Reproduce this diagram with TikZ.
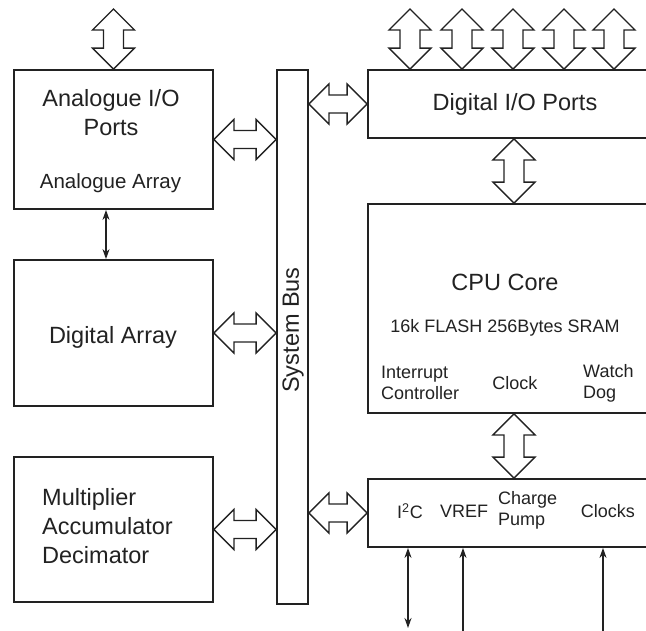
\documentclass[tikz,border=0pt]{standalone}
\usepackage{fontspec}
\setmainfont{Liberation Sans}
\usetikzlibrary{calc,arrows.meta}
\definecolor{ink}{HTML}{222222}
\tikzset{
  box/.style={draw=ink, line width=1.8pt, fill=white, inner sep=0pt},
  fat/.style={draw=ink, line width=1.3pt, fill=white, line join=miter},
  thin/.style={draw=ink, line width=1.5pt, -{Stealth[length=10pt,width=7pt]}},
  thinboth/.style={draw=ink, line width=1.5pt, {Stealth[length=10pt,width=7pt]}-{Stealth[length=10pt,width=7pt]}},
  big/.style={font=\fontsize{23.5}{29}\selectfont, text=ink, align=center, inner sep=0pt},
  small/.style={font=\fontsize{18}{21}\selectfont, text=ink, align=center, inner sep=0pt},
  smallleft/.style={font=\fontsize{18}{21}\selectfont, text=ink, align=left, inner sep=0pt},
}
% vertical fat double arrow between #1 (top) and #2 (bottom)
\newcommand\fatV[2]{%
  \path[fat] let \p1=#1, \p2=#2 in
   (\x1,\y1) -- (\x1+21pt,\y1-21pt) -- (\x1+10pt,\y1-21pt) -- (\x1+10pt,\y2+21pt)
   -- (\x1+21pt,\y2+21pt) -- (\x1,\y2) -- (\x1-21pt,\y2+21pt) -- (\x1-10pt,\y2+21pt)
   -- (\x1-10pt,\y1-21pt) -- (\x1-21pt,\y1-21pt) -- cycle;}
% horizontal fat double arrow between #1 (left) and #2 (right)
\newcommand\fatH[2]{%
  \path[fat] let \p1=#1, \p2=#2 in
   (\x1,\y1) -- (\x1+20pt,\y1+20pt) -- (\x1+20pt,\y1+9pt) -- (\x2-20pt,\y1+9pt)
   -- (\x2-20pt,\y1+20pt) -- (\x2,\y1) -- (\x2-20pt,\y1-20pt) -- (\x2-20pt,\y1-9pt)
   -- (\x1+20pt,\y1-9pt) -- (\x1+20pt,\y1-20pt) -- cycle;}
\begin{document}
\begin{tikzpicture}[x=1pt,y=-1pt]
\useasboundingbox (0,0) rectangle (646,630);
\clip (0,0) rectangle (646,630);

% boxes
\node[box, minimum width=199pt, minimum height=139pt] (ana) at (113.5,139.5) {};
\node[box, minimum width=199pt, minimum height=146pt] (da) at (113.5,333) {};
\node[box, minimum width=199pt, minimum height=145pt] (mad) at (113.5,529.5) {};
\node[box, minimum width=31pt, minimum height=534pt] (bus) at (292.5,337) {};
\node[box, minimum width=292pt, minimum height=68pt] (dio) at (514,104) {};
\node[box, minimum width=292pt, minimum height=209pt] (cpu) at (514,308.5) {};
\node[box, minimum width=292pt, minimum height=68pt] (bot) at (514,513) {};

% texts
\node[big] (anat) at (111,112.5) {Analogue I/O\\Ports};
\node[small, font=\fontsize{20.5}{24}\selectfont] (anaarr) at (110.5,183) {Analogue Array};
\node[big] (dat) at (113,337) {Digital Array};
\node[big, align=left, anchor=west] (madt) at (42,526) {Multiplier\\Accumulator\\Decimator};
\node[big, rotate=90] (bust) at (293,330) {System Bus};
\node[big] (diot) at (515,104) {Digital I/O Ports};
\node[big] (cput) at (505,282) {CPU Core};
\node[small] (mem) at (505,328) {16k FLASH 256Bytes SRAM};
\node[smallleft, anchor=west] (irq) at (381,383) {Interrupt\\Controller};
\node[small] (clk) at (515,383) {Clock};
\node[smallleft, anchor=west] (wd) at (583,383) {Watch\\Dog};
\node[small] (i2c) at (410,511) {I\textsuperscript{2}C};
\node[small] (vref) at (464,511) {VREF};
\node[smallleft, anchor=west] (cp) at (498,510.5) {Charge\\Pump};
\node[small] (clks) at (608,511) {Clocks};

% external ends
\coordinate (anatop) at (113.5,9);
\coordinate (t1) at (410,9);
\coordinate (t2) at (462,9);
\coordinate (t3) at (513,9);
\coordinate (t4) at (564,9);
\coordinate (t5) at (614,9);
\coordinate (adx) at (106,0);
\coordinate (i2cend) at (408,628);
\coordinate (vrefend) at (463,632);
\coordinate (clkend) at (603,632);

% fat arrows
\fatV{(anatop)}{(ana.north)}
\fatV{(t1)}{(t1 |- dio.north)}
\fatV{(t2)}{(t2 |- dio.north)}
\fatV{(t3)}{(t3 |- dio.north)}
\fatV{(t4)}{(t4 |- dio.north)}
\fatV{(t5)}{(t5 |- dio.north)}
\fatV{(dio.south)}{(cpu.north)}
\fatV{(cpu.south)}{(bot.north)}
\fatH{(ana.east)}{(bus.west |- ana.east)}
\fatH{(da.east)}{(bus.west |- da.east)}
\fatH{(mad.east)}{(bus.west |- mad.east)}
\fatH{(bus.east |- dio.west)}{(dio.west)}
\fatH{(bus.east |- bot.west)}{(bot.west)}

% thin arrows
\draw[thinboth] (adx |- ana.south) -- (adx |- da.north);
\draw[thinboth] (i2cend |- bot.south) -- (i2cend);
\draw[thin] (vrefend) -- (vrefend |- bot.south);
\draw[thin] (clkend) -- (clkend |- bot.south);
\end{tikzpicture}
\end{document}
